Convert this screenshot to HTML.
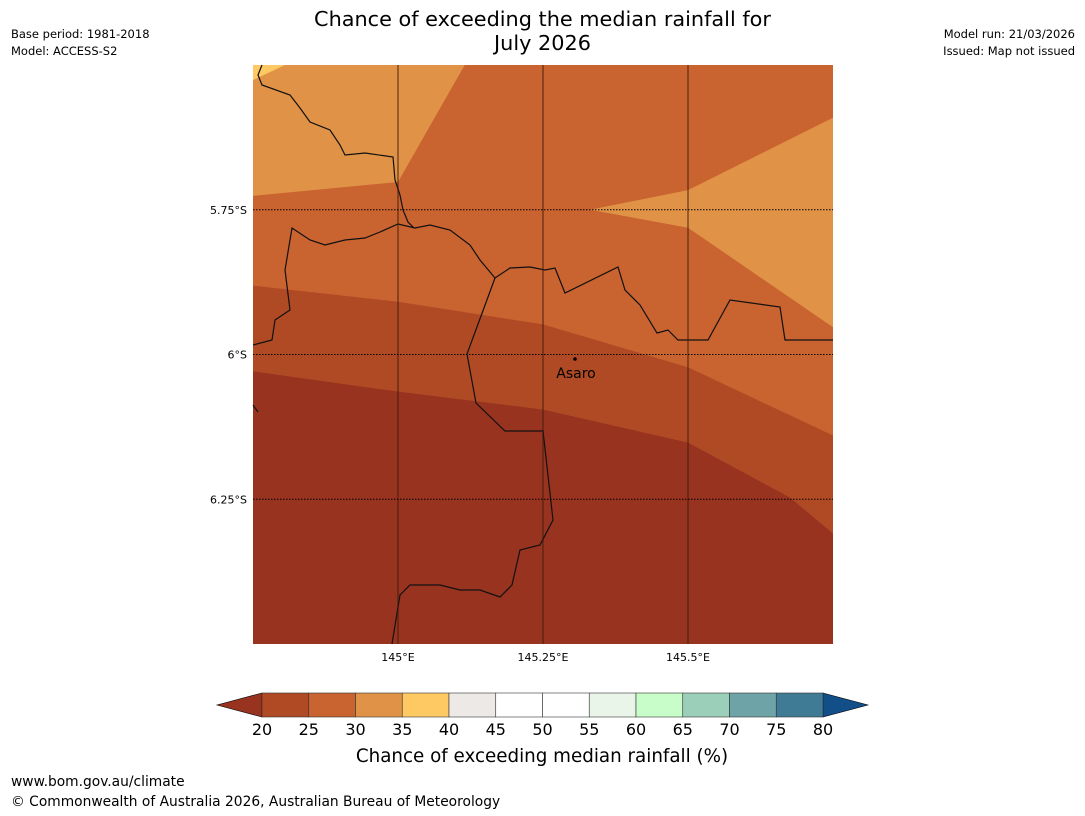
<!DOCTYPE html>
<html><head><meta charset="utf-8"><style>
body{margin:0;width:1085px;height:816px;background:#fff;font-family:"Liberation Sans","DejaVu Sans",sans-serif;overflow:hidden;position:relative}
.t{position:absolute;font-family:"DejaVu Sans","Liberation Sans",sans-serif;color:#000}
</style></head><body>
<div class="t" style="left:0;width:1085px;top:7px;text-align:center;font-size:20.8px;line-height:24px">Chance of exceeding the median rainfall for<br>July 2026</div>
<div class="t" style="left:11px;top:26px;font-size:11.5px;line-height:17px">Base period: 1981-2018<br>Model: ACCESS-S2</div>
<div class="t" style="right:10px;top:26px;font-size:11.5px;line-height:17px;text-align:right">Model run: 21/03/2026<br>Issued: Map not issued</div>
<div class="t" style="left:11px;top:774px;font-size:13.8px">www.bom.gov.au/climate</div>
<div class="t" style="left:11px;top:794px;font-size:13.8px">© Commonwealth of Australia 2026, Australian Bureau of Meteorology</div>
<svg id="svg" width="1085" height="816" style="position:absolute;left:0;top:0"></svg>
<script>
const lonTicks=[145,145.25,145.5];
const lonLabels=["145°E","145.25°E","145.5°E"];
const latTicks=[-5.75,-6,-6.25];
const latLabels=["5.75°S","6°S","6.25°S"];
const bins=[20,25,30,35,40,45,50,55,60,65,70,75,80];
const binColors=["#b04a25","#c96330","#e09347","#fec963","#ede9e6","#ffffff","#ffffff","#eaf5ea","#c8fcc8","#9ccfb9","#6ea4a8","#407b96"];
const lowColor="#983320", highColor="#124e88";
const region30a=[[144.75,-5.5],[145.115,-5.5],[145.0,-5.702],[144.75,-5.726]];
const region30b=[[145.75,-5.591],[145.5,-5.716],[145.331,-5.75],[145.5,-5.781],[145.75,-5.953]];
const region35=[[144.75,-5.5],[144.805,-5.5],[144.75,-5.526]];
const band20top=[[144.75,-5.881],[145.0,-5.909],[145.25,-5.948],[145.5,-6.022],[145.75,-6.14]];
const band20bot=[[144.75,-6.029],[145.0,-6.064],[145.25,-6.095],[145.5,-6.152],[145.676,-6.247],[145.75,-6.309]];
const X0=253,X1=833,Y0=65,Y1=644;
const lonMin=144.75,lonMax=145.75,latMax=-5.5,latMin=-6.5;
const xs=l=>X0+(l-lonMin)/(lonMax-lonMin)*(X1-X0);
const ys=l=>Y0+(latMax-l)/(latMax-latMin)*(Y1-Y0);
const svg=document.getElementById('svg');
const NS='http://www.w3.org/2000/svg';
function mk(t,a){const e=document.createElementNS(NS,t);for(const k in a)e.setAttribute(k,a[k]);svg.appendChild(e);return e;}
const pts=a=>a.map(p=>xs(p[0])+','+ys(p[1])).join(' ');
let e=mk('rect',{x:X0,y:Y0,width:X1-X0,height:Y1-Y0,fill:binColors[1]});

e=mk('polygon',{points:pts(region30a),fill:binColors[2]});

e=mk('polygon',{points:pts(region30b),fill:binColors[2]});

e=mk('polygon',{points:pts(region35),fill:binColors[3]});

e=mk('polygon',{points:pts(band20top.concat(band20bot.slice().reverse())),fill:binColors[0]});

e=mk('polygon',{points:pts(band20bot.concat([[lonMax,latMin],[lonMin,latMin]])),fill:lowColor});

const borders=[
"262,65 258,75 262,85 290,95 300,108 310,122 330,130 340,145 345,155 365,153 393,157 395,180 400,195 403,210 408,222 414,228",
"253,345 272,340 275,320 290,310 285,270 292,228 310,240 325,245 345,240 365,238 380,232 398,224 415,228 430,225 450,230 470,245 480,260 495,278 510,268 530,267 545,270 555,268 565,293 618,267 625,290 640,305 657,333 668,330 678,340 708,340 730,300 780,307 785,340 833,340",
"495,278 467,354 476,403 505,431 543,431 553,520 540,545 520,550 512,585 500,597 480,590 460,590 440,585 410,585 400,595 392,644",
"253,405 258,412"];
borders.forEach((b,i)=>{const p=mk('polyline',{points:b,fill:'none',stroke:'#111','stroke-width':1.2});
});
lonTicks.forEach((v,i)=>{
 const l=mk('line',{x1:xs(v),x2:xs(v),y1:Y0,y2:Y1,stroke:'#3a1a0a','stroke-width':1.5,'stroke-opacity':0.6});
 
 const t=mk('text',{x:xs(v),y:Y1+17,'text-anchor':'middle','font-size':11,'font-family':'DejaVu Sans, sans-serif'});
 t.textContent=lonLabels[i];
 
});
latTicks.forEach((v,i)=>{
 const l=mk('line',{x1:X0,x2:X1,y1:ys(v),y2:ys(v),stroke:'#000','stroke-width':1,'stroke-dasharray':'1.5,1.5'});
 
 const t=mk('text',{x:X0-6,y:ys(v)+4,'text-anchor':'end','font-size':11,'font-family':'DejaVu Sans, sans-serif'});
 t.textContent=latLabels[i];
 
});
e=mk('circle',{cx:575,cy:359,r:1.8,fill:'#000'});

e=mk('text',{x:576,y:378,'text-anchor':'middle','font-size':14,'font-family':'DejaVu Sans, sans-serif'});e.textContent='Asaro';

const CB0=262,CB1=823,CBy=693,CBh=24;
const cx=v=>CB0+(v-bins[0])/(bins[bins.length-1]-bins[0])*(CB1-CB0);
e=mk('polygon',{points:`${CB0},${CBy} 217,${CBy+CBh/2} ${CB0},${CBy+CBh}`,fill:lowColor,stroke:'#000','stroke-width':0.6});

e=mk('polygon',{points:`${CB1},${CBy} 868,${CBy+CBh/2} ${CB1},${CBy+CBh}`,fill:highColor,stroke:'#000','stroke-width':0.6});

binColors.forEach((c,i)=>{
 const r=mk('rect',{x:cx(bins[i]),y:CBy,width:cx(bins[i+1])-cx(bins[i]),height:CBh,fill:c,stroke:'#333','stroke-width':0.6});
 
});
bins.forEach(v=>{
 const t=mk('text',{x:cx(v),y:735,'text-anchor':'middle','font-size':16,'font-family':'DejaVu Sans, sans-serif'});t.textContent=v;
 
});
e=mk('text',{x:542,y:762,'text-anchor':'middle','font-size':18.3,'font-family':'DejaVu Sans, sans-serif'});
e.textContent='Chance of exceeding median rainfall (%)';

</script>
</body></html>
